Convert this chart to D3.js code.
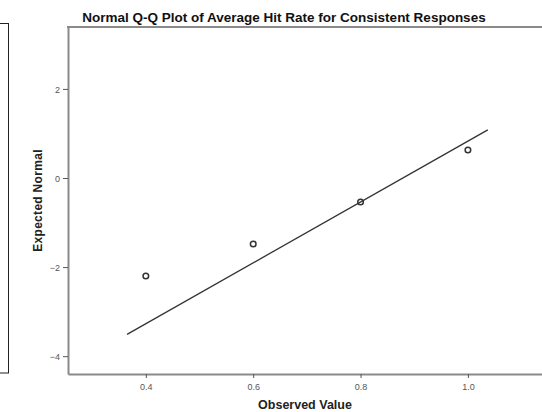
<!DOCTYPE html>
<html>
<head>
<meta charset="utf-8">
<script src="https://cdn.jsdelivr.net/npm/d3@7/dist/d3.min.js"></script>
<style>
  html, body { margin: 0; padding: 0; background: #fff; }
  svg { display: block; font-family: "Liberation Sans", Arial, sans-serif; }
</style>
</head>
<body>
<svg id="chart" width="542" height="412"></svg>
<script>
// Observed values and their expected normal scores
const observed = [0.4, 0.6, 0.8, 1.0];
const expectedNormal = [-2.20, -1.48, -0.54, 0.63];

// Reference line endpoints (observed, expected)
const lineX = [0.365, 1.037];
const lineY = [-3.51, 1.08];

const xTicks = [0.4, 0.6, 0.8, 1.0];
const yTicks = [2, 0, -2, -4];

const svg = d3.select("#chart");
const plotL = 68, plotR = 542, plotT = 27, plotB = 374;

const x = d3.scaleLinear().domain([0.255, 1.138]).range([plotL, plotR]);
const y = d3.scaleLinear().domain([-4.40, 3.39]).range([plotB, plotT]);

// Edge of the neighbouring panel on the left
svg.append("rect")
  .attr("x", -10).attr("y", 23.5).attr("width", 18.5).attr("height", 349.5)
  .attr("fill", "none").attr("stroke", "#222").attr("stroke-width", 1);

// Title
svg.append("text")
  .attr("x", 284).attr("y", 22)
  .attr("text-anchor", "middle")
  .attr("font-size", 13.5).attr("font-weight", "bold").attr("fill", "#111")
  .text("Normal Q-Q Plot of Average Hit Rate for Consistent Responses");

// Axes
const xAxis = d3.axisBottom(x).tickValues(xTicks).tickFormat(d3.format(".1f"))
  .tickSize(4).tickSizeOuter(0).tickPadding(6);
const yAxis = d3.axisLeft(y).tickValues(yTicks).tickFormat(d3.format("d"))
  .tickSize(5).tickSizeOuter(0).tickPadding(3);

const gx = svg.append("g").attr("transform", `translate(0,${plotB})`).call(xAxis);
const gy = svg.append("g").attr("transform", `translate(${plotL},0)`).call(yAxis);

[gx, gy].forEach(g => {
  g.select(".domain").attr("stroke", "#8a8a8a").attr("stroke-width", 2);
  g.selectAll(".tick line").attr("stroke", "#555").attr("stroke-width", 1);
  g.selectAll(".tick text").attr("font-size", 9).attr("fill", "#555")
    .attr("font-family", "'Liberation Sans', Arial, sans-serif");
});
gy.selectAll(".tick text").attr("dy", "0.35em");

// Top frame line
svg.append("line")
  .attr("x1", plotL - 1).attr("x2", plotR).attr("y1", plotT).attr("y2", plotT)
  .attr("stroke", "#8a8a8a").attr("stroke-width", 2);

// Axis titles
svg.append("text")
  .attr("x", (plotL + plotR) / 2).attr("y", 409)
  .attr("text-anchor", "middle")
  .attr("font-size", 12.5).attr("font-weight", "bold").attr("fill", "#222")
  .text("Observed Value");

svg.append("text")
  .attr("transform", `translate(42,${(plotT + plotB) / 2}) rotate(-90)`)
  .attr("text-anchor", "middle")
  .attr("font-size", 12).attr("font-weight", "bold").attr("fill", "#222")
  .attr("letter-spacing", 0.3)
  .text("Expected Normal");

// Reference line
svg.append("line")
  .attr("x1", x(lineX[0])).attr("y1", y(lineY[0]))
  .attr("x2", x(lineX[1])).attr("y2", y(lineY[1]))
  .attr("stroke", "#333").attr("stroke-width", 1.3);

// Points
svg.append("g").selectAll("circle")
  .data(observed.map((v, i) => [v, expectedNormal[i]]))
  .join("circle")
  .attr("cx", d => x(d[0])).attr("cy", d => y(d[1]))
  .attr("r", 2.8)
  .attr("fill", "none").attr("stroke", "#333").attr("stroke-width", 1.5);
</script>
</body>
</html>
